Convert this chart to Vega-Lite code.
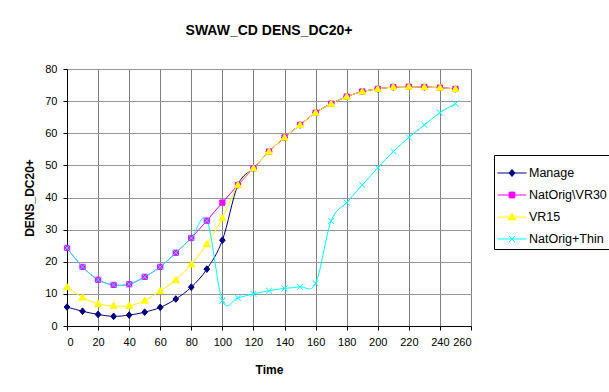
{
  "$schema": "https://vega.github.io/schema/vega-lite/v6.json",
  "width": 404,
  "height": 257,
  "autosize": {"type": "none"},
  "padding": {"left": 67, "top": 69, "right": 138, "bottom": 66},
  "title": {"text": "SWAW_CD DENS_DC20+", "font": "Liberation Sans", "fontSize": 14, "fontWeight": "bold", "color": "black", "anchor": "middle", "offset": 25},
  "config": {
    "view": {"stroke": "#808080", "strokeWidth": 1},
    "axis": {"grid": true, "gridColor": "#808080", "gridWidth": 1},
    "axisY": {"gridColor": "#969696", "gridWidth": 1},
    "font": "Liberation Sans"
  },
  "data": {"values": [
    {"series": "Manage", "time": 0, "dens": 5.9},
    {"series": "Manage", "time": 10, "dens": 4.6},
    {"series": "Manage", "time": 20, "dens": 3.6},
    {"series": "Manage", "time": 30, "dens": 3.0},
    {"series": "Manage", "time": 40, "dens": 3.4},
    {"series": "Manage", "time": 50, "dens": 4.3},
    {"series": "Manage", "time": 60, "dens": 5.8},
    {"series": "Manage", "time": 70, "dens": 8.4},
    {"series": "Manage", "time": 80, "dens": 12.1},
    {"series": "Manage", "time": 90, "dens": 17.7},
    {"series": "Manage", "time": 100, "dens": 26.7},
    {"series": "Manage", "time": 110, "dens": 43.9},
    {"series": "Manage", "time": 120, "dens": 49.1},
    {"series": "Manage", "time": 130, "dens": 54.3},
    {"series": "Manage", "time": 140, "dens": 58.7},
    {"series": "Manage", "time": 150, "dens": 62.6},
    {"series": "Manage", "time": 160, "dens": 66.4},
    {"series": "Manage", "time": 170, "dens": 69.2},
    {"series": "Manage", "time": 180, "dens": 71.4},
    {"series": "Manage", "time": 190, "dens": 73.0},
    {"series": "Manage", "time": 200, "dens": 73.8},
    {"series": "Manage", "time": 210, "dens": 74.4},
    {"series": "Manage", "time": 220, "dens": 74.5},
    {"series": "Manage", "time": 230, "dens": 74.4},
    {"series": "Manage", "time": 240, "dens": 74.2},
    {"series": "Manage", "time": 250, "dens": 73.8},
    {"series": "NatOrig\\VR30", "time": 0, "dens": 24.3},
    {"series": "NatOrig\\VR30", "time": 10, "dens": 18.4},
    {"series": "NatOrig\\VR30", "time": 20, "dens": 14.4},
    {"series": "NatOrig\\VR30", "time": 30, "dens": 12.8},
    {"series": "NatOrig\\VR30", "time": 40, "dens": 13.0},
    {"series": "NatOrig\\VR30", "time": 50, "dens": 15.3},
    {"series": "NatOrig\\VR30", "time": 60, "dens": 18.4},
    {"series": "NatOrig\\VR30", "time": 70, "dens": 22.8},
    {"series": "NatOrig\\VR30", "time": 80, "dens": 27.4},
    {"series": "NatOrig\\VR30", "time": 90, "dens": 32.8},
    {"series": "NatOrig\\VR30", "time": 100, "dens": 38.4},
    {"series": "NatOrig\\VR30", "time": 110, "dens": 43.9},
    {"series": "NatOrig\\VR30", "time": 120, "dens": 49.1},
    {"series": "NatOrig\\VR30", "time": 130, "dens": 54.3},
    {"series": "NatOrig\\VR30", "time": 140, "dens": 58.7},
    {"series": "NatOrig\\VR30", "time": 150, "dens": 62.6},
    {"series": "NatOrig\\VR30", "time": 160, "dens": 66.4},
    {"series": "NatOrig\\VR30", "time": 170, "dens": 69.2},
    {"series": "NatOrig\\VR30", "time": 180, "dens": 71.4},
    {"series": "NatOrig\\VR30", "time": 190, "dens": 73.0},
    {"series": "NatOrig\\VR30", "time": 200, "dens": 73.8},
    {"series": "NatOrig\\VR30", "time": 210, "dens": 74.4},
    {"series": "NatOrig\\VR30", "time": 220, "dens": 74.5},
    {"series": "NatOrig\\VR30", "time": 230, "dens": 74.4},
    {"series": "NatOrig\\VR30", "time": 240, "dens": 74.2},
    {"series": "NatOrig\\VR30", "time": 250, "dens": 73.8},
    {"series": "VR15", "time": 0, "dens": 12.1},
    {"series": "VR15", "time": 10, "dens": 8.9},
    {"series": "VR15", "time": 20, "dens": 6.9},
    {"series": "VR15", "time": 30, "dens": 6.3},
    {"series": "VR15", "time": 40, "dens": 6.3},
    {"series": "VR15", "time": 50, "dens": 7.9},
    {"series": "VR15", "time": 60, "dens": 10.9},
    {"series": "VR15", "time": 70, "dens": 14.3},
    {"series": "VR15", "time": 80, "dens": 19.2},
    {"series": "VR15", "time": 90, "dens": 25.5},
    {"series": "VR15", "time": 100, "dens": 33.6},
    {"series": "VR15", "time": 110, "dens": 43.9},
    {"series": "VR15", "time": 120, "dens": 49.1},
    {"series": "VR15", "time": 130, "dens": 54.3},
    {"series": "VR15", "time": 140, "dens": 58.7},
    {"series": "VR15", "time": 150, "dens": 62.6},
    {"series": "VR15", "time": 160, "dens": 66.4},
    {"series": "VR15", "time": 170, "dens": 69.2},
    {"series": "VR15", "time": 180, "dens": 71.4},
    {"series": "VR15", "time": 190, "dens": 73.0},
    {"series": "VR15", "time": 200, "dens": 73.8},
    {"series": "VR15", "time": 210, "dens": 74.4},
    {"series": "VR15", "time": 220, "dens": 74.5},
    {"series": "VR15", "time": 230, "dens": 74.4},
    {"series": "VR15", "time": 240, "dens": 74.2},
    {"series": "VR15", "time": 250, "dens": 73.8},
    {"series": "NatOrig+Thin", "time": 0, "dens": 24.3},
    {"series": "NatOrig+Thin", "time": 10, "dens": 18.4},
    {"series": "NatOrig+Thin", "time": 20, "dens": 14.4},
    {"series": "NatOrig+Thin", "time": 30, "dens": 12.8},
    {"series": "NatOrig+Thin", "time": 40, "dens": 13.0},
    {"series": "NatOrig+Thin", "time": 50, "dens": 15.3},
    {"series": "NatOrig+Thin", "time": 60, "dens": 18.4},
    {"series": "NatOrig+Thin", "time": 70, "dens": 22.8},
    {"series": "NatOrig+Thin", "time": 80, "dens": 27.4},
    {"series": "NatOrig+Thin", "time": 90, "dens": 32.8},
    {"series": "NatOrig+Thin", "time": 100, "dens": 7.9},
    {"series": "NatOrig+Thin", "time": 110, "dens": 8.8},
    {"series": "NatOrig+Thin", "time": 120, "dens": 10.0},
    {"series": "NatOrig+Thin", "time": 130, "dens": 11.0},
    {"series": "NatOrig+Thin", "time": 140, "dens": 11.7},
    {"series": "NatOrig+Thin", "time": 150, "dens": 12.2},
    {"series": "NatOrig+Thin", "time": 160, "dens": 13.3},
    {"series": "NatOrig+Thin", "time": 170, "dens": 32.7},
    {"series": "NatOrig+Thin", "time": 180, "dens": 38.4},
    {"series": "NatOrig+Thin", "time": 190, "dens": 43.9},
    {"series": "NatOrig+Thin", "time": 200, "dens": 49.2},
    {"series": "NatOrig+Thin", "time": 210, "dens": 54.3},
    {"series": "NatOrig+Thin", "time": 220, "dens": 58.7},
    {"series": "NatOrig+Thin", "time": 230, "dens": 62.6},
    {"series": "NatOrig+Thin", "time": 240, "dens": 66.4},
    {"series": "NatOrig+Thin", "time": 250, "dens": 69.2}
  ]},
  "encoding": {
    "x": {"field": "time", "type": "quantitative", "title": "Time",
      "scale": {"domain": [0, 260], "nice": false, "zero": false},
      "axis": {"values": [0,20,40,60,80,100,120,140,160,180,200,220,240,260],
        "domainColor": "black", "domainWidth": 1, "tickColor": "black", "tickSize": 4,
        "labelFont": "Liberation Sans", "labelFontSize": 11, "labelColor": "black", "labelPadding": 6,
        "titleFont": "Liberation Sans", "titleFontSize": 12, "titleFontWeight": "bold", "titleColor": "black", "titlePadding": 17}},
    "y": {"field": "dens", "type": "quantitative", "title": "DENS_DC20+",
      "scale": {"domain": [0, 80], "nice": false},
      "axis": {"values": [0,10,20,30,40,50,60,70,80],
        "domainColor": "black", "domainWidth": 1, "tickColor": "black", "tickSize": 4,
        "labelFont": "Liberation Sans", "labelFontSize": 11, "labelColor": "black", "labelPadding": 6,
        "titleFont": "Liberation Sans", "titleFontSize": 12, "titleFontWeight": "bold", "titleColor": "black", "titlePadding": 8}}
  },
  "layer": [
    {
      "mark": {"type": "line", "interpolate": "cardinal", "strokeWidth": 1},
      "encoding": {
        "color": {"field": "series", "type": "nominal",
          "scale": {"domain": ["Manage", "NatOrig\\VR30", "VR15", "NatOrig+Thin"], "range": ["#000080", "#FF00FF", "#FFFF00", "#00FFFF"]},
          "legend": {"title": null, "orient": "none", "legendX": 427, "legendY": 86,
            "strokeColor": "black", "fillColor": "white", "padding": 3, "rowPadding": -3,
            "symbolSize": 841, "symbolStrokeWidth": 1, "labelFont": "Liberation Sans", "labelFontSize": 12.5, "labelColor": "black", "labelOffset": 2,
            "encode": {"symbols": {"update": {
              "shape": {"signal": "datum.value === 'Manage' ? 'M-1,0L1,0M0,-0.24L0.21,0L0,0.24L-0.21,0Z' : datum.value === 'VR15' ? 'M-1,0L1,0M0,-0.26L0.27,0.2L-0.27,0.2Z' : datum.value === 'NatOrig+Thin' ? 'M-1,0L1,0M-0.21,-0.21L0.21,0.21M-0.21,0.21L0.21,-0.21' : 'M-1,0L1,0M-0.2,-0.2L0.2,-0.2L0.2,0.2L-0.2,0.2Z'"},
              "fill": {"scale": "color", "field": "value"},
              "stroke": {"scale": "color", "field": "value"},
              "size": {"value": 841},
              "strokeWidth": {"value": 1},
              "opacity": {"value": 1}
            }}}}
        }
      }
    },
    {
      "transform": [{"filter": {"field": "series", "equal": "Manage"}}],
      "mark": {"type": "point", "shape": "M0,-0.95L0.8,0L0,0.95L-0.8,0Z", "filled": true, "fill": "#000080", "stroke": "#000080", "size": 49, "strokeWidth": 1, "opacity": 1}
    },
    {
      "transform": [{"filter": {"field": "series", "equal": "NatOrig\\VR30"}}],
      "mark": {"type": "point", "shape": "M-0.75,-0.75L0.75,-0.75L0.75,0.75L-0.75,0.75Z", "filled": true, "fill": "#FF00FF", "stroke": "#FF00FF", "size": 49, "strokeWidth": 1, "opacity": 1}
    },
    {
      "transform": [{"filter": {"field": "series", "equal": "VR15"}}],
      "mark": {"type": "point", "shape": "M0,-1L1,0.75L-1,0.75Z", "filled": true, "fill": "#FFFF00", "stroke": "#FFFF00", "size": 49, "strokeWidth": 1, "opacity": 1}
    },
    {
      "transform": [{"filter": {"field": "series", "equal": "NatOrig+Thin"}}],
      "mark": {"type": "point", "shape": "M-0.85,-0.85L0.85,0.85M-0.85,0.85L0.85,-0.85", "filled": false, "stroke": "#00FFFF", "size": 49, "strokeWidth": 1, "opacity": 1}
    }
  ]
}
